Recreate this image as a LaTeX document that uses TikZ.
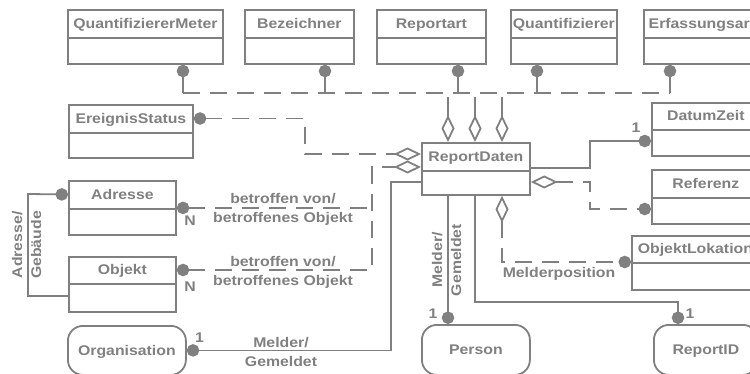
\documentclass[tikz,border=0pt]{standalone}
\usepackage{fontspec}
\setmainfont{Liberation Sans}[FakeStretch=1.13]
\usetikzlibrary{arrows.meta}
\definecolor{ink}{RGB}{128,128,128}
\tikzset{
  conn/.style={draw=ink, line width=1.8pt},
  dline/.style={conn, dash pattern=on 17pt off 10pt},
  clsbox/.style={draw=ink, line width=1.8pt, rectangle, inner sep=0pt},
  roundbox/.style={clsbox, rounded corners=15pt},
  txt/.style={text=ink, font=\fontsize{14}{19}\selectfont\bfseries, inner sep=0pt, text height=10pt, text depth=0pt},
  pair/.style={text=ink, font=\fontsize{14}{19}\selectfont\bfseries, inner sep=0pt, align=center},
  blob/.tip={Circle[length=12.5pt, width=12.5pt]},
  rhomb/.tip={Diamond[open, length=27pt, width=13pt]},
}
% class box: name, left, top, width, height, title row height, title
\newcommand\umlbox[7]{%
  \node[clsbox, minimum width=#4pt, minimum height=#5pt, anchor=north west] (#1) at (#2,#3) {};
  \draw[conn] ([yshift=-#6pt]#1.north west) -- ([yshift=-#6pt]#1.north east);
  \node[txt] (#1t) at ([yshift=-#6pt/2]#1.north) {#7};
}
\begin{document}
\begin{tikzpicture}[x=1pt, y=-1pt]
\useasboundingbox (0,0) rectangle (750,374);

% top row of classes
\umlbox{qm}{67}{9}{155}{54}{29}{QuantifiziererMeter}
\umlbox{bez}{244}{9}{109}{54}{29}{Bezeichner}
\umlbox{rpa}{376}{9}{109}{54}{29}{Reportart}
\umlbox{qnt}{510}{9}{106}{54}{29}{Quantifizierer}
\umlbox{erf}{643}{9}{116}{54}{29}{Erfassungsart}

% left column
\umlbox{ere}{68}{104}{124}{53}{29}{EreignisStatus}
\umlbox{adr}{68}{180}{107}{54}{29}{Adresse}
\umlbox{obj}{68}{256}{107}{55}{28}{Objekt}

% central class
\umlbox{rd}{421}{142}{108}{52}{29}{ReportDaten}

% right column
\umlbox{dat}{651}{102}{108}{53}{28}{DatumZeit}
\umlbox{ref}{651}{169}{108}{54}{29}{Referenz}
\umlbox{olk}{631}{235}{127}{54}{28}{ObjektLokation}

% rounded entities at the bottom
\node[roundbox, txt, minimum width=118pt, minimum height=49pt, anchor=north west] (org) at (67,325) {Organisation};
\node[roundbox, txt, minimum width=108pt, minimum height=50pt, anchor=north west] (per) at (421,324) {Person};
\node[roundbox, txt, minimum width=104pt, minimum height=50pt, anchor=north west] (rid) at (653,324) {ReportID};

% dashed bus from the top classes down to ReportDaten
\coordinate (b1) at (183,93);
\coordinate (b2) at (325,93);
\coordinate (b3) at (458,93);
\coordinate (b4) at (537,93);
\coordinate (b5) at (670,93);
\draw[dline] (b1) -- (b5);
\foreach \n/\b in {qm/b1, bez/b2, rpa/b3, qnt/b4, erf/b5}
  \draw[conn, blob-] (\n.south -| \b) -- (\b);
\coordinate (d1) at (448,97);
\coordinate (d2) at (475,97);
\coordinate (d3) at (502,97);
\foreach \d in {d1,d2,d3}
  \draw[conn, -rhomb] (\d) -- (rd.north -| \d);

% EreignisStatus
\coordinate (e1) at (305,154);
\draw[dline, blob-rhomb] (ere.east |- eret) -| (e1) -- (rd.west |- e1);

% betroffen von / betroffenes Objekt
\coordinate (v1) at (372,167);
\coordinate (v2) at (372,270);
\draw[dline, blob-rhomb] (obj.east |- objt) -- (v2) -- (v1) -- (rd.west |- v1);
\draw[dline, blob-] (adr.east) -- (adr.east -| v1);
\node[pair] (lb1) at (283,209) {betroffen von/\\betroffenes Objekt};
\node[pair] (lb2) at (283,272) {betroffen von/\\betroffenes Objekt};
\node[txt] (n1) at (190,220.5) {N};
\node[txt] (n2) at (190,286) {N};

% Adresse / Gebaeude
\coordinate (g1) at (28,194);
\coordinate (g2) at (28,296);
\draw[conn, blob-] (adr.west |- adrt) -- (g1) -- (g2) -- (obj.west |- g2);
\node[pair, rotate=90] (lb3) at (26.5,245) {Adresse/\\Gebäude};

% Organisation
\coordinate (o2) at (391,182);
\draw[conn, blob-] (org.east) -- (org.east -| o2) -- (o2) -- (rd.west |- o2);
\node[pair] (lb4) at (281,351.5) {Melder/\\Gemeldet};
\node[txt] (n3) at (199.5,337) {1};

% Person
\coordinate (m1) at (448,260);
\draw[conn, -blob] (rd.south -| m1) -- (per.north -| m1);
\node[pair, rotate=90] (lb5) at (446.5,260) {Melder/\\Gemeldet};
\node[txt] (n4) at (433,313.5) {1};

% ReportID
\coordinate (r1) at (475,302);
\coordinate (r2) at (678,302);
\draw[conn, -blob] (rd.south -| r1) -- (r1) -- (r2) -- (rid.north -| r2);
\node[txt] (n5) at (690,313.5) {1};

% ObjektLokation
\coordinate (k1) at (502,262);
\draw[dline, rhomb-blob] (rd.south -| k1) -- (k1) -- (olk.west |- k1);
\node[txt] (lb6) at (559,273) {Melderposition};

% DatumZeit
\coordinate (t1) at (590,168);
\coordinate (t2) at (590,141);
\draw[conn, -blob] (rd.east |- t1) -- (t1) -- (t2) -- (dat.west |- t2);
\node[txt] (n6) at (636,128) {1};

% Referenz
\coordinate (f1) at (590,182);
\coordinate (f2) at (590,209);
\draw[dline, rhomb-blob] (rd.east |- f1) -- (f1) -- (f2) -- (ref.west |- f2);
\end{tikzpicture}
\end{document}
